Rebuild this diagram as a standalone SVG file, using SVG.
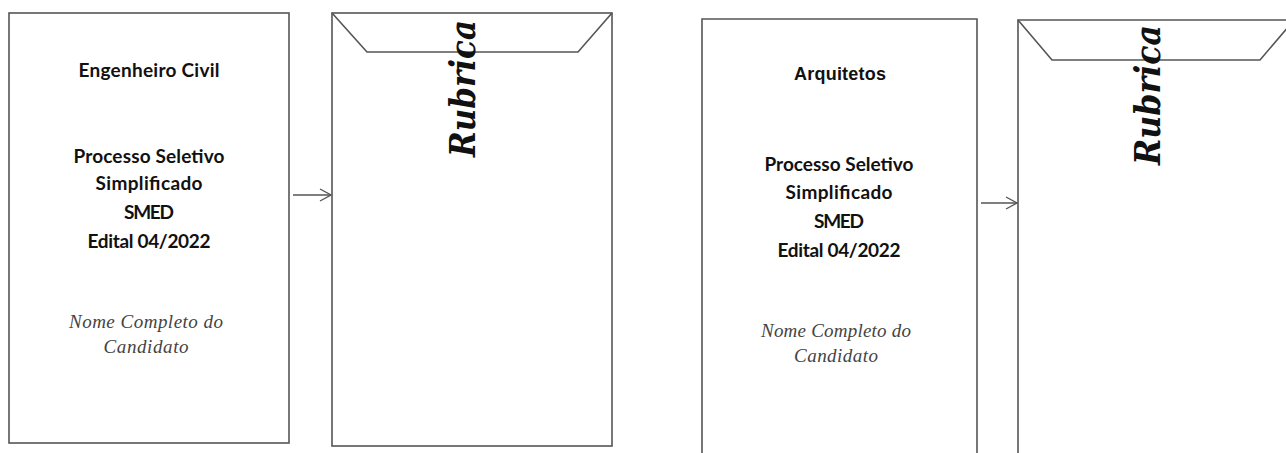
<svg xmlns="http://www.w3.org/2000/svg" width="1286" height="453" viewBox="0 0 1286 453">
<defs>
<style>
.box{fill:#fff;stroke:#555;stroke-width:1.6}
.flap{fill:none;stroke:#555;stroke-width:1.6}
.t{font-family:Lato,"Open Sans",sans-serif;font-weight:bold;font-size:19px;fill:#111;text-anchor:middle}
.a{font-family:"Liberation Sans",Arial,sans-serif;font-weight:bold;font-size:18px;fill:#111;text-anchor:middle}
.n{font-family:"Liberation Serif","Times New Roman",serif;font-style:italic;font-size:19px;fill:#444;text-anchor:middle}
.r{font-family:"DejaVu Serif","Liberation Serif",serif;font-style:italic;font-weight:bold;font-size:36px;fill:#111}
.c{stroke:#555;stroke-width:1.4;fill:none}
</style>
<marker id="ah" markerWidth="14" markerHeight="14" refX="12" refY="7" orient="auto" markerUnits="userSpaceOnUse">
<path d="M1,1 L12,7 L1,13" fill="none" stroke="#555" stroke-width="1.4"/>
</marker>
</defs>
<rect width="1286" height="453" fill="#fff"/>
<g id="card1">
<rect class="box" x="9" y="13" width="280" height="430"/>
<text class="t" x="149" y="77" textLength="141">Engenheiro Civil</text>
<text class="t" x="149" y="163" textLength="151">Processo Seletivo</text>
<text class="t" x="149" y="190" textLength="107">Simplificado</text>
<text class="t" x="149" y="219" textLength="50">SMED</text>
<text class="t" x="149" y="248" textLength="123">Edital 04/2022</text>
<text class="n" x="146" y="328" textLength="154">Nome Completo do</text>
<text class="n" x="146" y="353" textLength="85">Candidato</text>
</g>
<g id="envelope1">
<rect class="box" x="332" y="13" width="280" height="433"/>
<polyline class="flap" points="332,13 367,52 578,52 612,13"/>
<text class="r" transform="translate(475,157) rotate(-90)" textLength="137" lengthAdjust="spacingAndGlyphs">Rubrica</text>
</g>
<g id="card2">
<path class="box" d="M702,454 V19 H977 V454"/>
<text class="a" x="840" y="80" textLength="92">Arquitetos</text>
<text class="t" x="839" y="171" textLength="149">Processo Seletivo</text>
<text class="t" x="839" y="199" textLength="107">Simplificado</text>
<text class="t" x="839" y="228" textLength="50">SMED</text>
<text class="t" x="839" y="257" textLength="123">Edital 04/2022</text>
<text class="n" x="836" y="337" textLength="150">Nome Completo do</text>
<text class="n" x="836" y="362" textLength="84">Candidato</text>
</g>
<g id="envelope2">
<path class="box" d="M1018,454 V20 H1290"/>
<polyline class="flap" points="1018,20 1052,60 1260,60 1294,20"/>
<text class="r" transform="translate(1160,165) rotate(-90)" textLength="140" lengthAdjust="spacingAndGlyphs">Rubrica</text>
</g>
<g id="connectors">
<line class="c" x1="293" y1="195" x2="331" y2="195" marker-end="url(#ah)"/>
<line class="c" x1="981" y1="203" x2="1017" y2="203" marker-end="url(#ah)"/>
</g>
</svg>
